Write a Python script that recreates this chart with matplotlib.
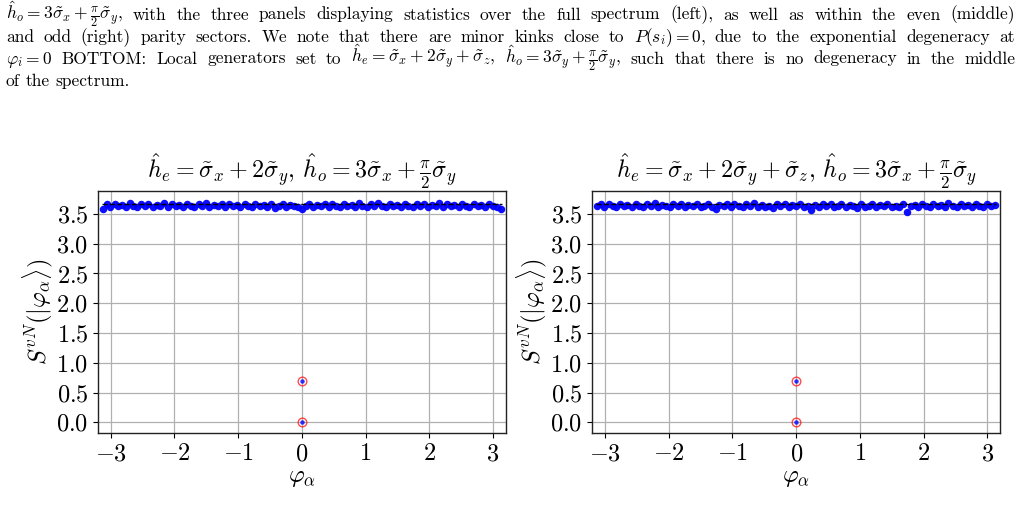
import matplotlib
matplotlib.use("Agg")
import matplotlib.pyplot as plt
import numpy as np

plt.rcParams['mathtext.fontset'] = 'cm'
plt.rcParams['axes.formatter.use_mathtext'] = True
plt.rcParams['font.family'] = ['cmr10', 'DejaVu Serif']
plt.rcParams['axes.unicode_minus'] = True

# ---------------- data ----------------
phases = [-3.12, -3.06, -3.01, -2.94, -2.88, -2.83, -2.76, -2.70, -2.65, -2.58,
          -2.52, -2.46, -2.41, -2.34, -2.28, -2.22, -2.17, -2.10, -2.04, -1.98,
          -1.93, -1.86, -1.80, -1.74, -1.69, -1.62, -1.56, -1.50, -1.45, -1.38,
          -1.32, -1.26, -1.21, -1.14, -1.08, -1.02, -0.97, -0.90, -0.84, -0.78,
          -0.73, -0.66, -0.60, -0.54, -0.49, -0.42, -0.36, -0.30, -0.25, -0.18,
          -0.12, -0.06, 0.00, 0.06, 0.12, 0.18, 0.24, 0.30, 0.36, 0.42,
          0.47, 0.54, 0.60, 0.66, 0.71, 0.78, 0.84, 0.90, 0.95, 1.02,
          1.08, 1.14, 1.19, 1.26, 1.32, 1.38, 1.43, 1.50, 1.56, 1.62,
          1.67, 1.74, 1.80, 1.86, 1.91, 1.98, 2.04, 2.10, 2.15, 2.22,
          2.28, 2.34, 2.39, 2.46, 2.52, 2.58, 2.63, 2.70, 2.76, 2.82,
          2.87, 2.94, 3.00, 3.06, 3.12]

entropy_left = [3.59, 3.66, 3.62, 3.67, 3.63, 3.65, 3.61, 3.68, 3.64, 3.62,
                3.66, 3.63, 3.67, 3.61, 3.65, 3.64, 3.68, 3.62, 3.66, 3.63,
                3.65, 3.61, 3.67, 3.64, 3.62, 3.66, 3.63, 3.69, 3.62, 3.65,
                3.64, 3.67, 3.61, 3.66, 3.63, 3.65, 3.62, 3.67, 3.64, 3.61,
                3.66, 3.63, 3.65, 3.62, 3.67, 3.60, 3.64, 3.66, 3.62, 3.65,
                3.63, 3.61, 3.58, 3.64, 3.66, 3.62, 3.65, 3.63, 3.67, 3.61,
                3.66, 3.64, 3.62, 3.67, 3.63, 3.65, 3.61, 3.68, 3.64, 3.62,
                3.66, 3.63, 3.69, 3.64, 3.62, 3.66, 3.63, 3.65, 3.61, 3.67,
                3.64, 3.62, 3.66, 3.63, 3.67, 3.61, 3.65, 3.64, 3.68, 3.62,
                3.66, 3.63, 3.65, 3.61, 3.67, 3.64, 3.62, 3.66, 3.63, 3.65,
                3.62, 3.67, 3.64, 3.61, 3.59]

entropy_right = [3.63, 3.66, 3.62, 3.67, 3.64, 3.61, 3.66, 3.63, 3.65, 3.62,
                 3.67, 3.64, 3.61, 3.66, 3.63, 3.68, 3.62, 3.65, 3.64, 3.62,
                 3.66, 3.63, 3.67, 3.61, 3.65, 3.63, 3.66, 3.62, 3.64, 3.67,
                 3.62, 3.59, 3.65, 3.63, 3.66, 3.61, 3.67, 3.64, 3.62, 3.66,
                 3.63, 3.68, 3.62, 3.65, 3.61, 3.64, 3.60, 3.66, 3.63, 3.67,
                 3.62, 3.65, 3.63, 3.66, 3.61, 3.64, 3.57, 3.65, 3.62, 3.67,
                 3.63, 3.66, 3.61, 3.64, 3.67, 3.62, 3.65, 3.63, 3.60, 3.66,
                 3.62, 3.64, 3.67, 3.61, 3.65, 3.63, 3.66, 3.62, 3.64, 3.61,
                 3.66, 3.54, 3.63, 3.65, 3.62, 3.67, 3.64, 3.61, 3.66, 3.63,
                 3.65, 3.62, 3.68, 3.64, 3.61, 3.66, 3.63, 3.65, 3.62, 3.67,
                 3.64, 3.62, 3.66, 3.63, 3.65]

special_phase = [0.0, 0.0]
special_entropy = [0.0, 0.693]
page_value = 3.659

titles = [r'$\hat{h}_e=\tilde{\sigma}_x+2\tilde{\sigma}_y$, $\hat{h}_o=3\tilde{\sigma}_x+\frac{\pi}{2}\tilde{\sigma}_y$',
          r'$\hat{h}_e=\tilde{\sigma}_x+2\tilde{\sigma}_y+\tilde{\sigma}_z$, $\hat{h}_o=3\tilde{\sigma}_x+\frac{\pi}{2}\tilde{\sigma}_y$']
xticks = [-3, -2, -1, 0, 1, 2, 3]
yticks = [0.0, 0.5, 1.0, 1.5, 2.0, 2.5, 3.0, 3.5]

caption_lines = [
    r'$\hat{h}_o=3\tilde{\sigma}_x+\frac{\pi}{2}\tilde{\sigma}_y$, with the three panels displaying statistics over the full spectrum (left), as well as within the even (middle)',
    r'and odd (right) parity sectors. We note that there are minor kinks close to $P(s_i)=0$, due to the exponential degeneracy at',
    r'$\varphi_i=0$ BOTTOM: Local generators set to $\hat{h}_e=\tilde{\sigma}_x+2\tilde{\sigma}_y+\tilde{\sigma}_z$, $\hat{h}_o=3\tilde{\sigma}_y+\frac{\pi}{2}\tilde{\sigma}_y$, such that there is no degeneracy in the middle',
    r'of the spectrum.',
]

# ---------------- figure ----------------
W, H = 1028, 519
fig = plt.figure(figsize=(W / 100, H / 100), dpi=100)

ax_w = 407.7 / W
ax_h = 242.6 / H
ax_b = 85.7 / H
axes = [fig.add_axes([98 / W, ax_b, ax_w, ax_h]),
        fig.add_axes([592.3 / W, ax_b, ax_w, ax_h])]

for ax, ent, title in zip(axes, [entropy_left, entropy_right], titles):
    ax.plot(phases, ent, 'o', color='blue', markersize=5.4, markeredgewidth=0, alpha=0.95, zorder=3)
    ax.plot(special_phase, special_entropy, 'o', color='blue', markersize=3.2,
            markeredgewidth=0, alpha=0.8, zorder=3)
    ax.plot(special_phase, special_entropy, 'o', markerfacecolor='none',
            markeredgecolor='red', markersize=6.2, markeredgewidth=1.0, alpha=0.7, zorder=4)
    ax.plot([-np.pi, np.pi], [page_value, page_value], '--', color='black', linewidth=1.0, zorder=5)
    ax.set_xlim(-3.2, 3.2)
    ax.set_ylim(-0.185, 3.89)
    ax.set_xticks(xticks)
    ax.set_yticks(yticks)
    ax.grid(True, color='#b0b0b0', linewidth=0.9)
    ax.set_axisbelow(True)
    ax.tick_params(labelsize=17.5)
    ax.set_xlabel(r'$\varphi_\alpha$', fontsize=17.5, labelpad=1)
    ax.set_ylabel(r'$S^{vN}(|\varphi_\alpha\rangle)$', fontsize=17.5, labelpad=1)
    ax.set_title(title, fontsize=17.3, pad=4)
    for sp in ax.spines.values():
        sp.set_color('#222222')
        sp.set_linewidth(1.0)

# ---------------- caption (justified) ----------------
renderer = fig.canvas.get_renderer()
baselines = [19.5, 41.7, 63.5, 85.5]
x0, x1 = 6, 1015
cap_fs = 12.5
for i, (line, yb) in enumerate(zip(caption_lines, baselines)):
    words = line.split(' ')
    texts = [fig.text(0, 1 - yb / H, w, fontsize=cap_fs, va='baseline', ha='left', color='black')
             for w in words]
    widths = [t.get_window_extent(renderer).width for t in texts]
    if i < len(caption_lines) - 1 and len(words) > 1:
        gap = (x1 - x0 - sum(widths)) / (len(words) - 1)
    else:
        gap = cap_fs * 100 / 72 * 0.333
    x = x0
    for t, w in zip(texts, widths):
        t.set_x(x / W)
        x += w + gap

fig.savefig('out.png', dpi=100)
